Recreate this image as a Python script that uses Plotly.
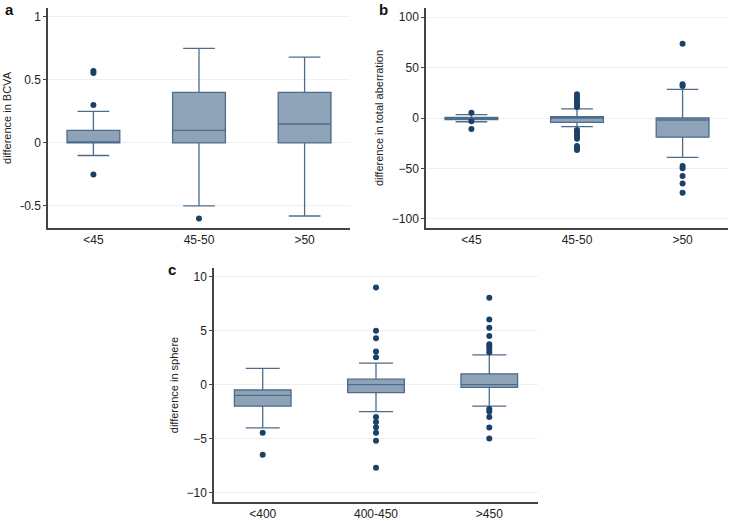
import plotly.graph_objects as go

# ---------- data ----------
cats_age = ["<45", "45-50", ">50"]
cats_thk = ["<400", "400-450", ">450"]

# panel a: difference in BCVA
a_q1 = [0, 0, 0]
a_med = [0, 0.1, 0.15]
a_q3 = [0.1, 0.4, 0.4]
a_lo = [-0.1, -0.5, -0.58]
a_hi = [0.25, 0.75, 0.68]
a_out = [[0.57, 0.555, 0.3, -0.25], [-0.6], []]

# panel b: difference in total aberration
b_q1 = [-1.5, -4.3, -19]
b_med = [0, 0, -2]
b_q3 = [0.5, 1.3, 0]
b_lo = [-3.7, -8.6, -39]
b_hi = [3.3, 9, 28.4]
b_out = [[5.3, -3.3, -11],
         [23.5, 20.5, 17.8, 15, 12.8, 11, -11.9, -14.2, -16.2, -18.5, -20.5, -27.7, -30, -31.7],
         [73.5, 33.4, 31.7, -47.5, -49.8, -57.4, -65, -74]]

# panel c: difference in sphere
c_q1 = [-2, -0.75, -0.25]
c_med = [-1, 0, 0]
c_q3 = [-0.5, 0.5, 1.0]
c_lo = [-4, -2.5, -2]
c_hi = [1.5, 2, 2.75]
c_out = [[-4.45, -6.5],
         [9, 5, 4.3, 3.07, 2.54, -3, -3.45, -3.95, -4.45, -5.2, -7.7],
         [8.05, 6.04, 5.26, 4.5, 3.75, 3.5, 3.3, 3.0, -2.25, -2.5, -3, -3.96, -5]]

BOX_FILL = "#8ea3b8"
BOX_LINE = "#4d6c8c"
DOT = "#1b4169"
AXIS = "#444444"
GRID = "#eef1f4"
FONT = "Liberation Sans, Arial, sans-serif"

fig = go.Figure()

panels = [
    ("x", "y", a_q1, a_med, a_q3, a_lo, a_hi, a_out),
    ("x2", "y2", b_q1, b_med, b_q3, b_lo, b_hi, b_out),
    ("x3", "y3", c_q1, c_med, c_q3, c_lo, c_hi, c_out),
]

for xa, ya, q1, med, q3, lo, hi, outs in panels:
    pos = list(range(len(q1)))
    fig.add_trace(go.Box(
        x=pos, q1=q1, median=med, q3=q3, lowerfence=lo, upperfence=hi,
        xaxis=xa, yaxis=ya, width=0.5, whiskerwidth=0.6,
        fillcolor=BOX_FILL, line=dict(color=BOX_LINE, width=1.3),
        boxpoints=False, showlegend=False, hoverinfo="skip",
    ))
    ox, oy = [], []
    for i, vals in enumerate(outs):
        ox += [i] * len(vals)
        oy += vals
    fig.add_trace(go.Scatter(
        x=ox, y=oy, mode="markers", xaxis=xa, yaxis=ya,
        marker=dict(color=DOT, size=6), showlegend=False, hoverinfo="skip",
    ))

W, H = 729, 521

def xdom(x0, x1):
    return [x0 / W, x1 / W]

def ydom(top, bottom):
    return [1 - bottom / H, 1 - top / H]

def px(x):
    return x / W

def py(y):
    return 1 - y / H

xcommon = dict(showgrid=False, zeroline=False, showline=True, linecolor=AXIS, linewidth=1.5,
               ticks="", tickfont=dict(size=12, color="#222", family=FONT),
               range=[-0.43, 2.43], tickvals=[0, 1, 2])
ycommon = dict(showgrid=True, gridcolor=GRID, gridwidth=1, zeroline=False, showline=True,
               linecolor=AXIS, linewidth=1.5, ticks="outside", ticklen=3, tickcolor=AXIS,
               tickfont=dict(size=12, color="#222", family=FONT),
               title_font=dict(size=11, color="#222", family=FONT), title_standoff=6)

fig.update_layout(
    width=W, height=H, margin=dict(l=0, r=0, t=0, b=0),
    plot_bgcolor="white", paper_bgcolor="white",
    font=dict(family=FONT),
    xaxis=dict(**xcommon, domain=xdom(48, 350), anchor="y", ticktext=cats_age),
    yaxis=dict(**ycommon, domain=ydom(8, 228), anchor="x", range=[-0.675, 1.07],
               tickvals=[-0.5, 0, 0.5, 1], ticktext=["-0.5", "0", "0.5", "1"],
               title_text="difference in BCVA"),
    xaxis2=dict(**xcommon, domain=xdom(426, 728), anchor="y2", ticktext=cats_age),
    yaxis2=dict(**ycommon, domain=ydom(8, 228), anchor="x2", range=[-109, 109],
                tickvals=[-100, -50, 0, 50, 100], title_text="difference in total aberration"),
    xaxis3=dict(**xcommon, domain=xdom(214, 538), anchor="y3", ticktext=cats_thk),
    yaxis3=dict(**ycommon, domain=ydom(268, 502), anchor="x3", range=[-10.87, 10.8],
                tickvals=[-10, -5, 0, 5, 10], title_text="difference in sphere"),
    annotations=[
        dict(text="<b>a</b>", x=px(3), y=py(9), xref="paper", yref="paper",
             xanchor="left", yanchor="middle", showarrow=False, font=dict(size=15, color="#111")),
        dict(text="<b>b</b>", x=px(377), y=py(9), xref="paper", yref="paper",
             xanchor="left", yanchor="middle", showarrow=False, font=dict(size=15, color="#111")),
        dict(text="<b>c</b>", x=px(166), y=py(269), xref="paper", yref="paper",
             xanchor="left", yanchor="middle", showarrow=False, font=dict(size=15, color="#111")),
    ],
)

# remove the default 8px page margin so the figure fills the window exactly
fig.write_html("out.html", config={"displayModeBar": False},
               post_script="document.body.style.margin='0';document.body.style.overflow='hidden';")
